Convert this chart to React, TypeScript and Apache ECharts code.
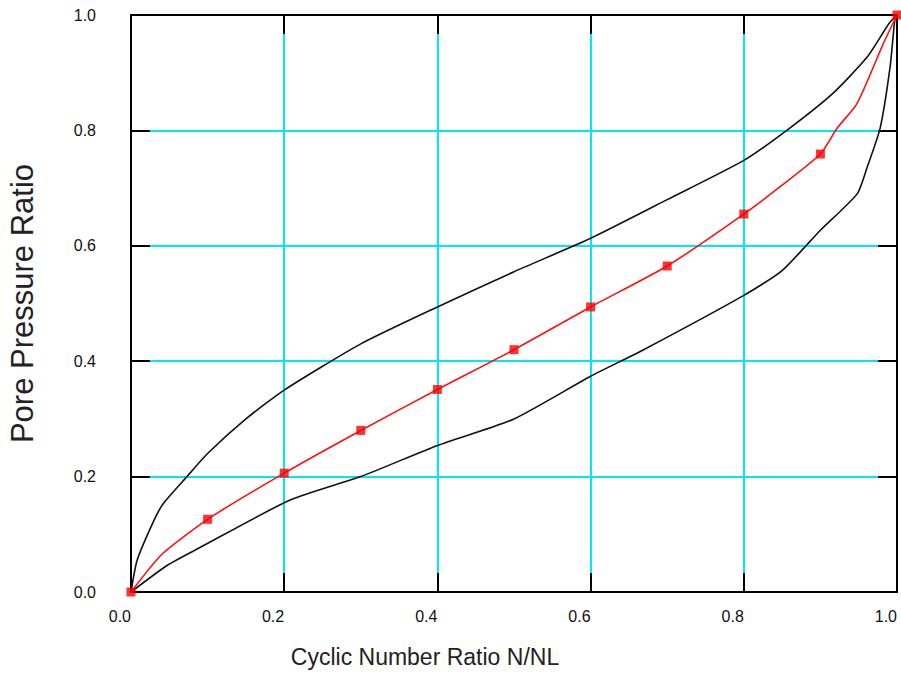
import React, { useEffect, useRef } from "react";
import * as echarts from "echarts";

const tickValues = [0, 0.2, 0.4, 0.6, 0.8, 1.0];

// Average (red) curve, markers at N/NL = 0, 0.1, ..., 1.0
const markerX = [0, 0.1, 0.2, 0.3, 0.4, 0.5, 0.6, 0.7, 0.8, 0.9, 1.0];
const markerY = [0, 0.126, 0.206, 0.28, 0.351, 0.42, 0.494, 0.565, 0.655, 0.759, 1.0];

const redX = [0, 0.04, 0.1, 0.2, 0.3, 0.4, 0.5, 0.6, 0.7, 0.8, 0.85, 0.9, 0.922, 0.948, 0.982, 1.0];
const redY = [0, 0.065, 0.126, 0.206, 0.28, 0.351, 0.42, 0.494, 0.565, 0.655, 0.705, 0.759, 0.804, 0.847, 0.95, 1.0];

// Upper bound curve
const upperX = [0, 0.008, 0.03, 0.042, 0.073, 0.1, 0.15, 0.2, 0.3, 0.4, 0.5, 0.6, 0.7, 0.8, 0.86, 0.917, 0.961, 0.99, 1.0];
const upperY = [0, 0.055, 0.124, 0.153, 0.2, 0.24, 0.3, 0.35, 0.43, 0.494, 0.555, 0.613, 0.68, 0.748, 0.804, 0.865, 0.927, 0.986, 1.0];

// Lower bound curve
const lowerX = [0, 0.047, 0.09, 0.207, 0.3, 0.4, 0.5, 0.6, 0.668, 0.8, 0.85, 0.9, 0.948, 0.961, 0.978, 0.991, 0.997, 1.0];
const lowerY = [0, 0.046, 0.077, 0.159, 0.2, 0.254, 0.3, 0.374, 0.419, 0.514, 0.557, 0.627, 0.69, 0.736, 0.804, 0.91, 0.99, 1.0];

const zip = (xs: number[], ys: number[]) => xs.map((x, i) => [x, ys[i]]);

export default function App() {
  const ref = useRef<HTMLDivElement>(null);
  useEffect(() => {
    if (!ref.current) return;
    const chart = echarts.init(ref.current, null, { renderer: "svg" });
    const font = "'Liberation Sans', Arial, sans-serif";
    const W = 901, H = 675;
    const gl = 131, gt = 15, gr = 4, gb = 83;
    const gw = W - gl - gr;
    const gh = H - gt - gb;
    const tick = 19;
    const cyan = "#00e8f0";
    const axisBase = {
      type: "value",
      min: tickValues[0],
      max: tickValues[tickValues.length - 1],
      interval: tickValues[1] - tickValues[0],
      axisLine: { show: true, onZero: false, lineStyle: { color: "#000", width: 2 } },
      axisTick: { show: true, inside: true, length: tick, lineStyle: { color: "#000", width: 2 } },
    };
    chart.setOption({
      animation: false,
      backgroundColor: "#fff",
      grid: {
        left: gl,
        top: gt,
        right: gr,
        bottom: gb,
        containLabel: false,
        outerBoundsMode: "none",
      },
      xAxis: [
        {
          ...axisBase,
          position: "bottom",
          name: "Cyclic Number Ratio N/NL",
          nameLocation: "middle",
          nameGap: 53,
          nameTextStyle: {
            fontFamily: font,
            fontSize: 23,
            color: "#222",
            padding: [0, 178, 0, 0],
          },
          axisLabel: {
            fontFamily: font,
            fontSize: 16,
            color: "#111",
            margin: 16,
            align: "right",
            formatter: (v: number) => v.toFixed(1),
          },
          splitLine: {
            show: true,
            lineStyle: { color: cyan, width: 2, type: [0, tick, gh - 2 * tick, 200] },
          },
        },
        {
          ...axisBase,
          position: "top",
          axisLabel: { show: false },
          splitLine: { show: false },
        },
      ],
      yAxis: [
        {
          ...axisBase,
          position: "left",
          name: "Pore Pressure Ratio",
          nameLocation: "middle",
          nameGap: 93,
          nameTextStyle: { fontFamily: font, fontSize: 31, color: "#222" },
          axisLabel: {
            fontFamily: font,
            fontSize: 16,
            color: "#111",
            margin: 35,
            formatter: (v: number) => v.toFixed(1),
          },
          splitLine: {
            show: true,
            lineStyle: { color: cyan, width: 2, type: [0, tick, gw - 2 * tick, 200] },
          },
        },
        {
          ...axisBase,
          position: "right",
          axisLabel: { show: false },
          splitLine: { show: false },
        },
      ],
      series: [
        {
          type: "line",
          name: "Upper",
          data: zip(upperX, upperY),
          showSymbol: false,
          smooth: 0.2,
          z: 10,
          lineStyle: { color: "#111", width: 1.6 },
        },
        {
          type: "line",
          name: "Lower",
          data: zip(lowerX, lowerY),
          showSymbol: false,
          smooth: 0.2,
          z: 10,
          lineStyle: { color: "#111", width: 1.6 },
        },
        {
          type: "line",
          name: "Average",
          data: zip(redX, redY),
          showSymbol: false,
          smooth: 0.2,
          z: 11,
          lineStyle: { color: "#ff1010", width: 1.6 },
        },
        {
          type: "scatter",
          name: "Average points",
          data: zip(markerX, markerY),
          symbol: "rect",
          symbolSize: 9,
          z: 12,
          itemStyle: { color: "#ff0000" },
        },
      ],
    });
    return () => chart.dispose();
  }, []);
  return (
    <div
      ref={ref}
      style={{ position: "absolute", left: 0, top: 0, width: 901, height: 675 }}
    />
  );
}
